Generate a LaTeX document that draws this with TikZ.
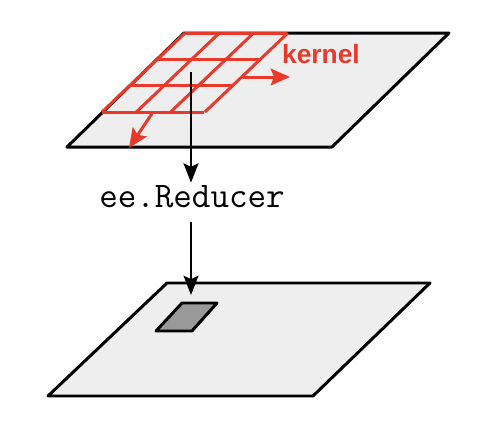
\documentclass[tikz,border=0pt]{standalone}
\usepackage{fontspec}
\setmainfont{Liberation Sans}
\usepackage{xcolor}
\usetikzlibrary{arrows.meta}
\definecolor{kernelred}{RGB}{232,57,43}
\definecolor{planegray}{RGB}{238,238,238}
\definecolor{cellgray}{RGB}{153,153,153}

\begin{document}
\begin{tikzpicture}[x=0.02cm, y=-0.02cm,
  plane/.style={draw, fill=planegray, line width=1.7pt, line join=round},
  cell/.style={draw, fill=cellgray, line width=1.7pt, line join=round},
  kgrid/.style={draw=kernelred, line width=1.7pt},
  arr/.style={-{Stealth[length=11pt, width=8.5pt, inset=2pt]}, line width=1.3pt},
  redarr/.style={-{Stealth[length=11pt, width=9.5pt, inset=2pt]}, draw=kernelred,
                 line width=1.7pt}
]
\useasboundingbox (0,0) rectangle (478,434);
% Top plane: input image
\draw[plane] (67,147) -- (332,147) -- (449,33) -- (184,33) -- cycle;
% Kernel grid
\foreach \i in {0,...,3} {
  \draw[kgrid] (102+\i*34.3,112) -- ++(83,-79);
  \draw[kgrid] (102+\i*27.7,112-\i*26.3) -- ++(102,0);
}
\draw[redarr] (243,77) -- (290,77);
\draw[redarr] (153,112) -- (129,148);
\node[text=kernelred, font=\bfseries\fontsize{15}{17}\selectfont, anchor=base]
  (kernel) at (321,63) {kernel};
% Reducer label
\node[font=\ttfamily\fontsize{20.5}{22}\selectfont, inner sep=0pt,
      text height=0.48cm, text depth=0.3cm, anchor=base]
  (reducer) at (192,207) {ee.Reducer};
% Bottom plane: output image
\draw[plane] (48,396) -- (313,396) -- (430,283) -- (167,283) -- cycle;
\draw[cell] (156,331) -- (192,331) -- (217,303) -- (182,303) -- cycle;
% Arrows
\coordinate (kc)  at (191,72);
\coordinate (hit) at (191,295);
\draw[arr] (kc) -- (kc |- reducer.north);
\draw[arr] (hit |- reducer.south) -- (hit);
\end{tikzpicture}
\end{document}
